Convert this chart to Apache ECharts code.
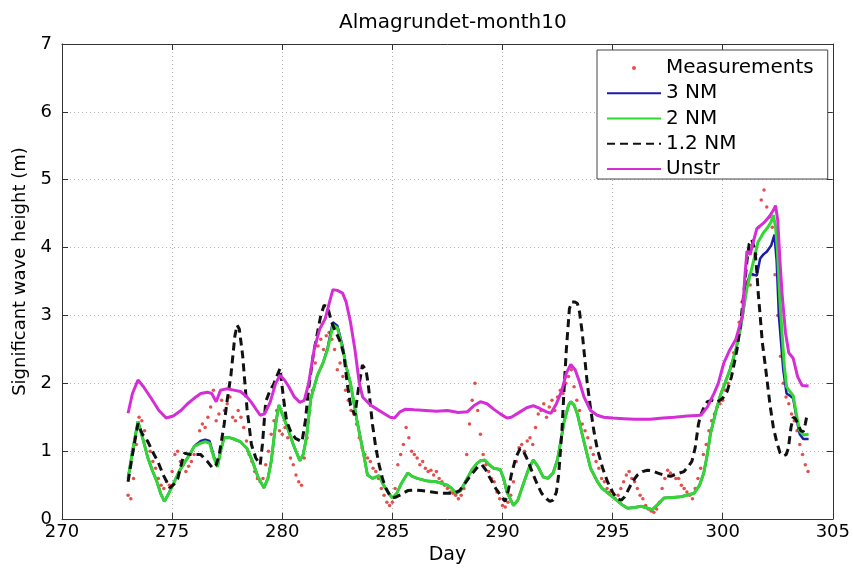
<!DOCTYPE html>
<html>
<head>
<meta charset="utf-8">
<script src="https://cdn.jsdelivr.net/npm/echarts@6/dist/echarts.min.js"></script>
<style>
  html, body { margin: 0; padding: 0; background: #fff; }
  #chart { width: 853px; height: 570px; }
</style>
</head>
<body>
<div id="chart"></div>
<script>
// Significant wave height at Almagrundet, October (day of year 273-304)

const xTicks = [270, 275, 280, 285, 290, 295, 300, 305];
const yTicks = [0, 1, 2, 3, 4, 5, 6, 7];

// Buoy record: one row per day, 3-hourly readings (00, 03, ... 21 h)
const measDays = [273, 274, 275, 276, 277, 278, 279, 280, 281, 282, 283, 284, 285, 286, 287, 288,
                  289, 290, 291, 292, 293, 294, 295, 296, 297, 298, 299, 300, 301, 302, 303];
const measPerDay = 8;
const measValues = [
  [0.35, 0.30, 0.60, 1.10, 1.50, 1.45, 1.30, 1.15],
  [1.00, 0.85, 0.75, 0.60, 0.50, 0.45, 0.55, 0.50],
  [0.70, 0.95, 1.00, 0.85, 0.80, 0.70, 0.78, 0.85],
  [0.95, 1.10, 1.30, 1.40, 1.35, 1.50, 1.65, 1.90],
  [1.45, 1.55, 1.75, 1.60, 1.70, 1.80, 1.50, 1.45],
  [1.60, 1.50, 1.35, 1.15, 0.95, 0.85, 0.70, 0.60],
  [0.55, 0.60, 0.80, 1.00, 1.25, 1.45, 1.60, 1.30],
  [1.25, 1.35, 1.20, 0.90, 0.80, 0.65, 0.55, 0.50],
  [0.90, 1.20, 1.60, 1.90, 2.30, 2.55, 2.65, 2.50],
  [2.70, 2.75, 2.65, 2.50, 2.20, 2.30, 2.10, 1.90],
  [1.75, 1.60, 1.55, 1.40, 1.20, 1.05, 0.95, 0.90],
  [0.85, 0.75, 0.70, 0.60, 0.45, 0.35, 0.25, 0.20],
  [0.25, 0.45, 0.80, 0.95, 1.10, 1.35, 1.20, 1.00],
  [0.95, 0.90, 0.80, 0.85, 0.75, 0.70, 0.72, 0.65],
  [0.70, 0.60, 0.55, 0.50, 0.45, 0.40, 0.38, 0.35],
  [0.30, 0.35, 0.45, 0.95, 1.40, 1.75, 2.00, 1.60],
  [1.25, 0.95, 0.80, 0.70, 0.60, 0.55, 0.40, 0.30],
  [0.20, 0.18, 0.25, 0.35, 0.55, 0.85, 1.05, 1.10],
  [1.00, 1.15, 1.20, 1.10, 1.35, 1.55, 1.60, 1.70],
  [1.50, 1.65, 1.75, 1.60, 1.80, 1.90, 1.85, 2.00],
  [2.10, 2.20, 1.95, 1.75, 1.60, 1.40, 1.30, 1.20],
  [1.05, 0.95, 0.85, 0.75, 0.60, 0.55, 0.45, 0.40],
  [0.35, 0.30, 0.35, 0.45, 0.55, 0.65, 0.70, 0.60],
  [0.55, 0.45, 0.35, 0.30, 0.20, 0.15, 0.12, 0.10],
  [0.15, 0.25, 0.45, 0.60, 0.72, 0.68, 0.65, 0.60],
  [0.60, 0.50, 0.45, 0.40, 0.35, 0.30, 0.45, 0.60],
  [0.75, 0.95, 1.10, 1.30, 1.45, 1.55, 1.65, 1.70],
  [1.75, 1.90, 2.00, 2.25, 2.45, 2.65, 2.90, 3.20],
  [3.35, 3.50, 3.45, 3.60, 3.90, 4.30, 4.70, 4.85],
  [4.60, 4.45, 4.30, 3.60, 3.00, 2.40, 2.00, 1.80],
  [1.70, 1.55, 1.45, 1.30, 1.10, 0.95, 0.80, 0.70]
];

// Model output, [day, Hs (m)]
const nm3 = [
  [273.0,0.6],[273.2,1.0],[273.45,1.44],[273.7,1.15],[273.9,0.9],[274.1,0.72],[274.3,0.56],[274.5,0.36],
  [274.65,0.26],[274.85,0.38],[275.1,0.55],[275.35,0.72],[275.6,0.85],[275.85,0.98],[276.0,1.07],
  [276.3,1.15],[276.5,1.17],[276.7,1.15],[276.9,0.92],[277.06,0.78],[277.2,1.0],[277.36,1.2],[277.6,1.2],
  [277.8,1.18],[278.1,1.14],[278.4,1.04],[278.65,0.85],[278.9,0.62],[279.17,0.46],[279.35,0.6],[279.5,0.85],
  [279.7,1.4],[279.85,1.68],[280.0,1.55],[280.2,1.38],[280.5,1.1],[280.8,0.86],[280.95,0.95],[281.1,1.2],
  [281.3,1.78],[281.6,2.12],[281.85,2.3],[282.06,2.52],[282.2,2.75],[282.3,2.9],[282.5,2.85],[282.74,2.55],
  [282.9,2.25],[283.1,2.0],[283.4,1.44],[283.7,0.95],[283.87,0.65],[284.1,0.6],[284.4,0.64],[284.6,0.5],
  [284.8,0.4],[285.0,0.31],[285.2,0.38],[285.4,0.52],[285.7,0.68],[285.9,0.63],[286.13,0.6],[286.6,0.56],
  [287.0,0.55],[287.5,0.5],[287.7,0.45],[287.9,0.38],[288.1,0.42],[288.4,0.6],[288.6,0.72],[288.84,0.82],
  [289.0,0.86],[289.2,0.87],[289.4,0.8],[289.6,0.75],[289.9,0.73],[290.05,0.6],[290.2,0.4],[290.5,0.2],
  [290.7,0.28],[290.95,0.52],[291.2,0.75],[291.4,0.87],[291.6,0.78],[291.85,0.62],[292.06,0.6],[292.3,0.68],
  [292.5,0.88],[292.65,1.15],[292.8,1.44],[293.0,1.68],[293.1,1.73],[293.25,1.68],[293.4,1.55],[293.7,1.14],
  [294.0,0.75],[294.3,0.56],[294.5,0.46],[294.8,0.38],[295.07,0.31],[295.4,0.22],[295.68,0.16],[296.0,0.17],
  [296.3,0.19],[296.6,0.16],[296.8,0.14],[297.0,0.2],[297.33,0.31],[297.7,0.32],[298.1,0.33],[298.7,0.38],
  [298.95,0.5],[299.14,0.68],[299.3,0.95],[299.44,1.25],[299.7,1.6],[299.9,1.83],[300.1,2.0],[300.35,2.22],
  [300.6,2.5],[300.8,2.8],[300.95,3.1],[301.1,3.45],[301.25,3.62],[301.4,3.6],[301.55,3.59],[301.7,3.84],
  [301.85,3.9],[302.0,3.94],[302.2,4.03],[302.35,4.19],[302.45,3.8],[302.55,3.0],[302.65,2.6],[302.75,2.2],
  [302.9,1.85],[303.05,1.82],[303.2,1.78],[303.4,1.4],[303.5,1.25],[303.66,1.18],[303.9,1.18]
];

const nm2 = [
  [273.0,0.6],[273.2,1.0],[273.45,1.44],[273.7,1.15],[273.9,0.9],[274.1,0.72],[274.3,0.56],[274.5,0.36],
  [274.65,0.26],[274.85,0.38],[275.1,0.55],[275.35,0.72],[275.6,0.85],[275.85,0.98],[276.0,1.07],
  [276.3,1.12],[276.5,1.14],[276.7,1.12],[276.9,0.9],[277.06,0.77],[277.2,1.0],[277.36,1.2],[277.6,1.2],
  [277.8,1.18],[278.1,1.14],[278.4,1.04],[278.65,0.85],[278.9,0.62],[279.17,0.46],[279.35,0.6],[279.5,0.85],
  [279.7,1.4],[279.85,1.68],[280.0,1.55],[280.2,1.38],[280.5,1.1],[280.8,0.86],[280.95,0.95],[281.1,1.2],
  [281.3,1.78],[281.6,2.12],[281.85,2.3],[282.06,2.5],[282.2,2.7],[282.3,2.86],[282.5,2.82],[282.74,2.52],
  [282.9,2.25],[283.1,2.0],[283.4,1.44],[283.7,0.95],[283.87,0.65],[284.1,0.6],[284.4,0.64],[284.6,0.5],
  [284.8,0.4],[285.0,0.31],[285.2,0.38],[285.4,0.52],[285.7,0.68],[285.9,0.63],[286.13,0.6],[286.6,0.56],
  [287.0,0.55],[287.5,0.5],[287.7,0.45],[287.9,0.38],[288.1,0.42],[288.4,0.6],[288.6,0.72],[288.84,0.82],
  [289.0,0.86],[289.2,0.87],[289.4,0.8],[289.6,0.75],[289.9,0.73],[290.05,0.6],[290.2,0.4],[290.5,0.2],
  [290.7,0.28],[290.95,0.52],[291.2,0.75],[291.4,0.87],[291.6,0.78],[291.85,0.62],[292.06,0.6],[292.3,0.68],
  [292.5,0.88],[292.65,1.15],[292.8,1.44],[293.0,1.68],[293.1,1.73],[293.25,1.68],[293.4,1.55],[293.7,1.14],
  [294.0,0.75],[294.3,0.56],[294.5,0.46],[294.8,0.38],[295.07,0.31],[295.4,0.22],[295.68,0.16],[296.0,0.17],
  [296.3,0.19],[296.6,0.16],[296.8,0.14],[297.0,0.2],[297.33,0.31],[297.7,0.32],[298.1,0.33],[298.7,0.38],
  [298.95,0.5],[299.14,0.68],[299.3,0.95],[299.44,1.25],[299.7,1.6],[299.9,1.83],[300.1,2.0],[300.35,2.22],
  [300.6,2.5],[300.8,2.8],[300.95,3.1],[301.1,3.4],[301.25,3.6],[301.4,3.8],[301.6,4.08],[301.85,4.22],
  [302.05,4.3],[302.2,4.38],[302.3,4.48],[302.4,4.3],[302.48,3.98],[302.6,3.2],[302.7,2.71],[302.8,2.25],
  [302.9,1.95],[303.05,1.88],[303.2,1.82],[303.4,1.45],[303.5,1.3],[303.66,1.24],[303.9,1.25]
];

const nm12 = [
  [273.0,0.55],[273.2,0.95],[273.45,1.41],[273.65,1.25],[273.9,1.14],[274.1,1.0],[274.35,0.85],[274.6,0.65],
  [274.9,0.46],[275.1,0.52],[275.26,0.6],[275.45,0.85],[275.56,0.97],[275.86,0.95],[276.3,0.95],[276.6,0.85],
  [276.84,0.75],[277.0,0.8],[277.14,0.95],[277.36,1.39],[277.5,1.75],[277.67,2.12],[277.85,2.7],[277.95,2.86],
  [278.05,2.8],[278.2,2.42],[278.4,1.63],[278.6,1.1],[278.8,0.9],[279.0,0.8],[279.1,1.1],[279.25,1.73],
  [279.45,1.9],[279.6,1.98],[279.75,2.1],[279.9,2.22],[280.05,1.8],[280.2,1.44],[280.4,1.28],[280.6,1.19],
  [280.9,1.14],[281.05,1.45],[281.2,1.93],[281.4,2.4],[281.6,2.75],[281.75,3.0],[281.9,3.15],[282.06,3.13],
  [282.2,2.95],[282.3,2.85],[282.4,2.78],[282.5,2.71],[282.65,2.6],[282.8,2.42],[282.95,2.0],[283.1,1.68],
  [283.3,1.53],[283.45,1.9],[283.64,2.27],[283.8,2.2],[283.9,2.0],[284.1,1.39],[284.25,1.05],[284.4,0.8],
  [284.55,0.6],[284.7,0.46],[284.85,0.37],[285.0,0.31],[285.2,0.33],[285.38,0.36],[285.7,0.42],[286.0,0.43],
  [286.3,0.42],[286.58,0.41],[287.2,0.38],[287.8,0.38],[288.05,0.42],[288.24,0.5],[288.5,0.62],[288.7,0.7],
  [288.9,0.78],[289.07,0.8],[289.25,0.72],[289.44,0.6],[289.7,0.45],[289.9,0.36],[290.12,0.26],[290.25,0.4],
  [290.4,0.65],[290.6,0.9],[290.8,1.04],[290.95,1.0],[291.1,0.9],[291.25,0.78],[291.4,0.65],[291.6,0.5],
  [291.78,0.38],[292.0,0.3],[292.15,0.26],[292.3,0.28],[292.45,0.4],[292.55,0.65],[292.7,1.3],[292.8,1.93],
  [292.9,2.5],[293.04,3.1],[293.15,3.2],[293.27,3.2],[293.4,3.18],[293.5,3.05],[293.62,2.75],[293.72,2.42],
  [293.85,2.0],[294.0,1.63],[294.15,1.3],[294.3,1.04],[294.55,0.75],[294.77,0.55],[295.0,0.4],[295.2,0.3],
  [295.4,0.28],[295.55,0.33],[295.68,0.41],[295.9,0.55],[296.13,0.65],[296.35,0.7],[296.58,0.72],[296.8,0.71],
  [297.03,0.68],[297.3,0.65],[297.64,0.63],[297.95,0.67],[298.24,0.7],[298.45,0.78],[298.6,0.85],[298.75,1.05],
  [298.9,1.4],[299.0,1.53],[299.15,1.65],[299.3,1.73],[299.5,1.75],[299.74,1.72],[300.0,1.78],[300.2,1.88],
  [300.4,2.1],[300.65,2.5],[300.8,2.85],[300.95,3.3],[301.1,3.8],[301.2,4.05],[301.32,4.12],[301.4,4.14],
  [301.47,3.95],[301.55,3.64],[301.62,3.3],[301.7,3.0],[301.8,2.6],[301.93,2.27],[302.05,1.95],[302.15,1.68],
  [302.3,1.35],[302.45,1.14],[302.6,0.98],[302.75,0.93],[302.88,0.95],[302.98,1.04],[303.1,1.35],[303.2,1.5],
  [303.3,1.48],[303.43,1.39],[303.55,1.3],[303.66,1.29],[303.75,1.4],[303.82,1.52]
];

const unstr = [
  [273.0,1.56],[273.2,1.85],[273.45,2.05],[273.7,1.95],[274.05,1.78],[274.4,1.6],[274.73,1.49],[275.05,1.52],
  [275.4,1.6],[275.7,1.7],[276.0,1.78],[276.3,1.85],[276.6,1.87],[276.8,1.85],[277.0,1.73],[277.2,1.9],
  [277.5,1.92],[277.8,1.9],[278.1,1.88],[278.4,1.8],[278.6,1.72],[278.85,1.6],[279.0,1.53],[279.2,1.55],
  [279.45,1.72],[279.7,2.0],[279.9,2.12],[280.1,2.05],[280.3,1.95],[280.55,1.8],[280.8,1.72],[281.0,1.75],
  [281.2,2.0],[281.45,2.5],[281.7,2.8],[281.95,2.95],[282.15,3.2],[282.3,3.38],[282.5,3.37],[282.74,3.33],
  [282.9,3.2],[283.1,2.9],[283.3,2.5],[283.5,2.0],[283.65,1.8],[284.0,1.68],[284.3,1.62],[284.6,1.56],
  [284.9,1.5],[285.1,1.49],[285.35,1.58],[285.6,1.62],[286.0,1.61],[286.5,1.6],[287.0,1.59],[287.5,1.6],
  [288.0,1.57],[288.4,1.58],[288.7,1.67],[289.0,1.73],[289.3,1.7],[289.6,1.62],[289.9,1.55],[290.2,1.49],
  [290.4,1.5],[290.8,1.58],[291.1,1.64],[291.4,1.67],[291.7,1.63],[292.0,1.58],[292.2,1.56],[292.45,1.7],
  [292.7,1.9],[292.9,2.15],[293.1,2.28],[293.3,2.2],[293.5,2.02],[293.7,1.8],[294.0,1.6],[294.3,1.53],
  [294.6,1.5],[295.0,1.49],[295.5,1.48],[296.0,1.47],[296.7,1.47],[297.3,1.49],[297.8,1.5],[298.4,1.52],
  [299.0,1.53],[299.3,1.65],[299.6,1.85],[299.8,2.0],[300.05,2.3],[300.3,2.48],[300.6,2.65],[300.9,3.0],
  [301.0,3.55],[301.1,3.95],[301.25,3.9],[301.4,4.1],[301.55,4.28],[301.85,4.36],[302.1,4.45],[302.3,4.55],
  [302.4,4.62],[302.5,4.4],[302.6,3.8],[302.7,3.3],[302.85,2.75],[303.0,2.45],[303.2,2.37],[303.4,2.1],
  [303.6,1.97],[303.9,1.96]
];

const seriesNames = ['Measurements', '3 NM', '2 NM', '1.2 NM', 'Unstr'];

// Pair each reading with its time of day
const measurements = [];
measDays.forEach((d, i) => {
  measValues[i].forEach((v, k) => measurements.push([d + k / measPerDay, v]));
});

const FONT = 'DejaVu Sans';
const chart = echarts.init(document.getElementById('chart'), null, { renderer: 'canvas' });

const boxAxis = (extra) => Object.assign({
  type: 'value',
  axisLine: { show: true, onZero: false, lineStyle: { color: '#333', width: 1 } },
  axisTick: { show: true, inside: true, length: 6, lineStyle: { color: '#333' } },
  axisLabel: { show: false },
  splitLine: { show: false }
}, extra);

const lineSeries = (name, data, color, type, width) => ({
  name, type: 'line', data,
  symbol: 'none', showSymbol: false, smooth: false,
  lineStyle: { color, width, type },
  itemStyle: { color },
  xAxisIndex: 0, yAxisIndex: 0,
  animation: false
});

// Legend entries: plain line swatches for the model runs, a small dot for the buoy
const hidden = { color: 'rgba(0,0,0,0)', borderWidth: 0 };
const legendData = seriesNames.map((n, i) => (i === 0 ? { name: n } : { name: n, itemStyle: hidden }));

chart.setOption({
  animation: false,
  backgroundColor: '#fff',
  title: {
    text: 'Almagrundet-month10',
    left: 334, top: 8,
    textStyle: { fontFamily: FONT, fontSize: 20, fontWeight: 'normal', color: '#000' }
  },
  grid: { left: 62, right: 16, top: 44, bottom: 50, containLabel: false },
  legend: {
    data: legendData,
    orient: 'vertical',
    left: 597, top: 50,
    itemWidth: 54, itemHeight: 4,
    itemGap: 5.25,
    padding: [8, 14, 0, 9],
    backgroundColor: '#fff',
    borderColor: '#444', borderWidth: 1,
    textStyle: { fontFamily: FONT, fontSize: 20, color: '#000' },
    selectedMode: false
  },
  xAxis: [
    boxAxis({
      position: 'bottom', min: 270, max: 305, interval: 5,
      name: 'Day', nameLocation: 'middle', nameGap: 24,
      nameTextStyle: { fontFamily: FONT, fontSize: 19, color: '#000' },
      axisLabel: { show: true, margin: 4, fontFamily: FONT, fontSize: 18, color: '#000',
                   customValues: xTicks },
      splitLine: { show: true, lineStyle: { color: '#b0b0b0', type: [1, 3], width: 1 } }
    }),
    boxAxis({ position: 'top', min: 270, max: 305, interval: 5 })
  ],
  yAxis: [
    boxAxis({
      position: 'left', min: 0, max: 7, interval: 1,
      name: 'Significant wave height (m)', nameLocation: 'middle', nameGap: 33,
      nameTextStyle: { fontFamily: FONT, fontSize: 18, color: '#000', padding: [0, 0, 0, 20] },
      axisLabel: { show: true, margin: 10, fontFamily: FONT, fontSize: 18, color: '#000',
                   customValues: yTicks },
      splitLine: { show: true, lineStyle: { color: '#b0b0b0', type: [1, 3], width: 1 } }
    }),
    boxAxis({ position: 'right', min: 0, max: 7, interval: 1 })
  ],
  series: [
    {
      name: 'Measurements', type: 'scatter', data: measurements,
      symbol: 'circle', symbolSize: 3.5,
      itemStyle: { color: '#e02020' },
      xAxisIndex: 0, yAxisIndex: 0, animation: false
    },
    lineSeries('3 NM', nm3, '#1c1ca8', 'solid', 2.5),
    lineSeries('2 NM', nm2, '#33d633', 'solid', 3),
    lineSeries('1.2 NM', nm12, '#111', [8, 5], 3),
    lineSeries('Unstr', unstr, '#d62ed6', 'solid', 3)
  ]
});
</script>
</body>
</html>
